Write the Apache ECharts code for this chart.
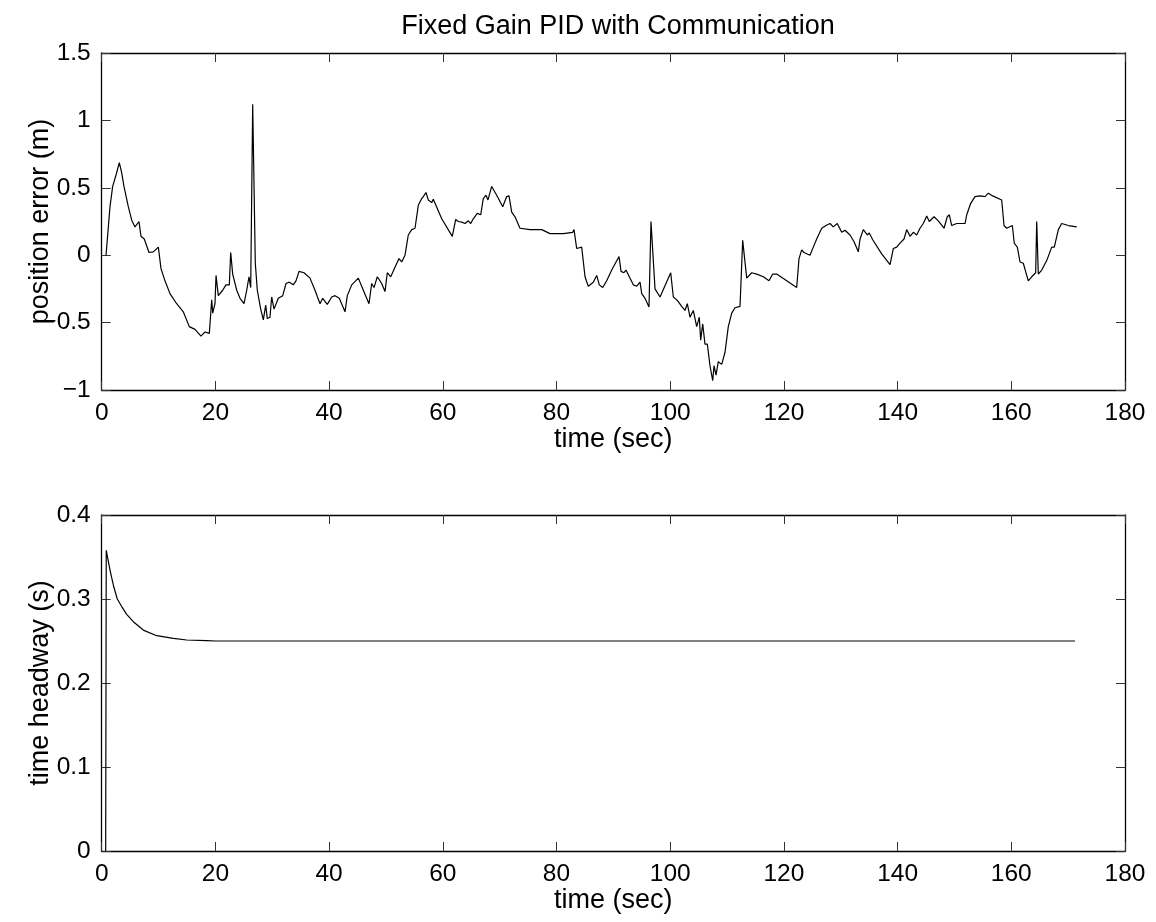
<!DOCTYPE html>
<html>
<head>
<meta charset="utf-8">
<script src="https://cdn.jsdelivr.net/npm/echarts@6/dist/echarts.min.js"></script>
<style>html,body{margin:0;padding:0;background:#fff;}#c{width:1156px;height:922px;}</style>
</head>
<body>
<div id="c"></div>
<script>
const titleText = "Fixed Gain PID with Communication";
const xName = "time (sec)";
const yNameTop = "position error (m)";
const yNameBottom = "time headway (s)";

const timeTop = [0.76,1.46,1.93,2.52,3.10,3.52,3.92,4.27,4.68,5.28,5.86,6.56,6.91,7.49,8.32,9.08,9.96,10.43,11.13,12.01,13.19,14.35,15.41,16.41,17.47,18.17,18.93,19.35,19.53,19.93,20.11,20.51,21.28,21.86,22.45,22.69,23.04,23.75,24.33,25.03,25.51,25.91,26.21,26.56,27.02,27.37,27.97,28.43,28.85,29.13,29.6,29.9,30.31,31.06,31.84,32.42,33.0,33.7,34.18,34.71,35.59,36.64,37.52,38.4,38.87,39.68,40.46,41.04,41.79,42.8,43.2,43.98,45.14,46.02,47.02,47.49,47.9,48.48,49.25,49.83,50.24,50.84,51.59,52.3,52.77,53.35,53.93,54.53,55.11,55.69,56.29,56.57,57.04,57.45,57.75,58.05,58.33,59.81,61.67,62.27,62.73,63.32,63.91,64.49,64.91,65.36,66.07,66.67,67.12,67.6,67.95,68.6,69.48,70.54,71.24,71.65,72.12,72.7,73.58,75.34,77.4,78.86,81.2,82.85,83.08,83.55,84.43,85.02,85.59,86.47,87.07,87.53,88.13,88.83,89.71,91.0,91.35,91.87,92.22,92.81,93.51,94.11,94.69,94.99,95.57,96.27,96.62,97.33,98.21,100.09,100.55,101.25,102.02,102.6,103.01,103.48,104.06,104.66,105.12,105.36,105.72,106.12,106.53,107.0,107.48,107.71,108.06,108.46,109.06,109.64,110.22,110.82,111.4,112.28,112.75,113.46,114.34,115.22,116.38,117.38,118.03,118.73,122.25,122.66,123.13,123.54,124.59,125.17,125.77,126.65,127.41,128.11,128.69,129.39,130.17,130.75,131.63,132.34,133.09,133.39,133.97,134.67,135.02,135.62,137.2,138.67,139.25,139.84,140.42,141.13,141.6,142.18,142.76,143.36,143.94,144.52,145.12,145.58,146.41,147.16,148.17,148.74,149.1,149.52,150.4,151.86,152.16,152.86,153.62,154.5,155.38,155.96,156.73,158.31,158.72,159.19,160.18,160.53,161.06,161.53,162.11,162.99,163.59,164.29,164.47,164.75,165.35,166.23,167.11,167.57,168.27,168.87,170.03,171.51];
const positionError = [0,0.36,0.51,0.595,0.687,0.61,0.51,0.52,0.36,0.26,0.21,0.25,0.14,0.12,0.02,0.025,0.06,-0.1,-0.19,-0.285,-0.36,-0.42,-0.53,-0.55,-0.6,-0.57,-0.58,-0.33,-0.43,-0.36,-0.15,-0.3,-0.26,-0.22,-0.22,0.02,-0.14,-0.26,-0.32,-0.36,-0.26,-0.16,-0.24,1.12,-0.06,-0.26,-0.4,-0.48,-0.37,-0.47,-0.46,-0.31,-0.4,-0.32,-0.3,-0.21,-0.2,-0.22,-0.19,-0.12,-0.13,-0.17,-0.26,-0.36,-0.32,-0.365,-0.31,-0.3,-0.32,-0.42,-0.3,-0.22,-0.17,-0.26,-0.36,-0.21,-0.24,-0.16,-0.21,-0.27,-0.13,-0.16,-0.09,-0.025,-0.05,0,0.15,0.19,0.2,0.37,0.42,0.435,0.465,0.41,0.42,0.39,0.415,0.27,0.14,0.265,0.25,0.245,0.235,0.255,0.235,0.27,0.31,0.3,0.42,0.445,0.41,0.51,0.445,0.36,0.435,0.44,0.32,0.285,0.2,0.19,0.19,0.16,0.16,0.17,0.19,0.05,0.06,-0.16,-0.23,-0.2,-0.15,-0.22,-0.24,-0.19,-0.11,-0.01,-0.12,-0.13,-0.11,-0.16,-0.22,-0.23,-0.2,-0.285,-0.32,-0.385,0.25,-0.25,-0.31,-0.13,-0.31,-0.335,-0.38,-0.41,-0.36,-0.46,-0.41,-0.53,-0.46,-0.63,-0.51,-0.66,-0.66,-0.82,-0.93,-0.82,-0.89,-0.79,-0.81,-0.72,-0.53,-0.43,-0.39,-0.38,0.11,-0.17,-0.13,-0.14,-0.16,-0.19,-0.14,-0.14,-0.24,-0.025,0.04,0.02,0,0.06,0.12,0.2,0.22,0.235,0.21,0.235,0.17,0.185,0.15,0.1,0.025,0.12,0.19,0.15,0.165,0.115,0.01,-0.07,0.05,0.06,0.09,0.12,0.19,0.14,0.17,0.15,0.2,0.235,0.29,0.25,0.285,0.255,0.2,0.285,0.3,0.22,0.235,0.235,0.3,0.385,0.435,0.44,0.435,0.46,0.44,0.41,0.22,0.2,0.22,0.087,0.06,-0.05,-0.06,-0.19,-0.16,-0.13,0.25,-0.14,-0.11,-0.04,0.06,0.06,0.19,0.235,0.22,0.21];

const timeBottom = [0.70,0.76,0.80,0.88,1.46,2.04,2.74,3.52,4.40,5.56,7.32,9.67,12.60,14.95,18.47,20.0,171.2];
const headway = [0,0,0.358,0.358,0.3345,0.3167,0.300,0.291,0.2817,0.273,0.263,0.2563,0.2532,0.2512,0.2504,0.25,0.25];

const xTicks = {min:0, max:180, interval:20};
const yTopTicks = {min:-1, max:1.5, interval:0.5};
const yBottomTicks = {min:0, max:0.4, interval:0.1};

const FONT = '"Liberation Sans", Arial, Helvetica, sans-serif';
const FS = 24.5;
const FL = 27;
const fmtNum = v => {
  let s = String(Math.round(v*1000)/1000);
  return s.replace('-', '\u2212');
};

function xAx(grid, pos, showLabel, name) {
  return {
    type:'value', gridIndex:grid, position:pos,
    min:xTicks.min, max:xTicks.max, interval:xTicks.interval,
    name: name || '', nameLocation:'middle', nameGap:36, nameMoveOverlap:false,
    nameTextStyle:{color:'#000', fontSize:FL, fontFamily:FONT},
    axisLine:{show:true, onZero:false, lineStyle:{color:'#000', width:1.3}},
    axisTick:{show:true, inside:true, length:9, lineStyle:{color:'#333', width:1}},
    axisLabel:{show:showLabel, color:'#000', fontSize:FS, fontFamily:FONT, margin:11, formatter:fmtNum},
    splitLine:{show:false}
  };
}
function yAx(grid, pos, showLabel, t, name) {
  return {
    type:'value', gridIndex:grid, position:pos,
    min:t.min, max:t.max, interval:t.interval,
    name: name || '', nameLocation:'middle', nameGap:48, nameRotate:90, nameMoveOverlap:false,
    nameTextStyle:{color:'#000', fontSize:FL, fontFamily:FONT},
    axisLine:{show:true, onZero:false, lineStyle:{color:'#000', width:1.3}},
    axisTick:{show:true, inside:true, length:9, lineStyle:{color:'#333', width:1}},
    axisLabel:{show:showLabel, color:'#000', fontSize:FS, fontFamily:FONT, margin:11, formatter:fmtNum},
    splitLine:{show:false}
  };
}

const topData = timeTop.map((t,i)=>[t, positionError[i]]);
const bottomData = timeBottom.map((t,i)=>[t, headway[i]]);

const chart = echarts.init(document.getElementById('c'), null, {renderer:'canvas'});
chart.setOption({
  backgroundColor:'#fff',
  animation:false,
  title:{text:titleText, left:613, top:8, textAlign:'center',
    textStyle:{color:'#000', fontSize:FL, fontWeight:'normal', fontFamily:FONT}},
  grid:[
    {left:101.7, right:31, top:53, height:337},
    {left:101.7, right:31, top:515, height:336}
  ],
  xAxis:[
    xAx(0,'bottom',true,xName), xAx(0,'top',false),
    xAx(1,'bottom',true,xName), xAx(1,'top',false)
  ],
  yAxis:[
    yAx(0,'left',true,yTopTicks,yNameTop), yAx(0,'right',false,yTopTicks),
    yAx(1,'left',true,yBottomTicks,yNameBottom), yAx(1,'right',false,yBottomTicks)
  ],
  series:[
    {type:'line', xAxisIndex:0, yAxisIndex:0, data:topData, showSymbol:false, symbol:'none',
     lineStyle:{color:'#000', width:1.2}, silent:true},
    {type:'line', xAxisIndex:2, yAxisIndex:2, data:bottomData, showSymbol:false, symbol:'none', smooth:false,
     lineStyle:{color:'#000', width:1.2}, silent:true}
  ]
});
</script>
</body>
</html>
